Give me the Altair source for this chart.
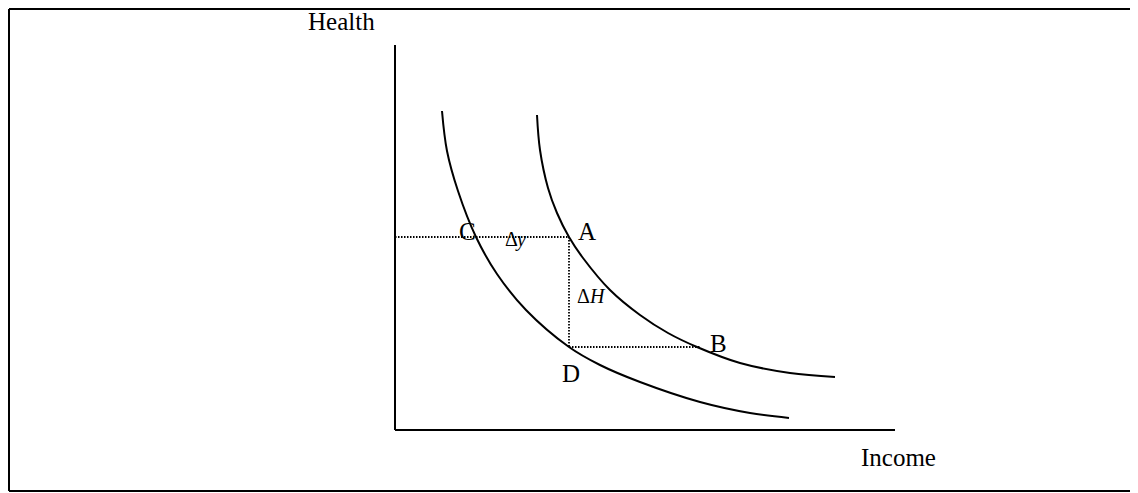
import altair as alt
import pandas as pd

# Inner curve (through C and D): income, health
curve1_income = [47, 52, 63, 81, 102, 131, 174, 205, 245, 305, 355, 394]
curve1_health = [319, 279, 239, 193, 156, 120, 83, 65, 48, 28, 17, 12]

# Outer curve (through A and B)
curve2_income = [142, 145, 153, 162, 174, 188, 215, 245, 273, 302, 345, 395, 440]
curve2_health = [315, 280, 242, 217, 193, 172, 140, 115, 97, 83, 67, 57, 53]

# Dotted guide segments: x, y, x2, y2
guide_x1 = [0, 174, 174]
guide_y1 = [193, 193, 83]
guide_x2 = [174, 174, 305]
guide_y2 = [193, 83, 83]

# Axis lines
axis_x1 = [0, 0]
axis_y1 = [0, 0]
axis_x2 = [0, 500]
axis_y2 = [385, 0]

# Frame lines (left, top, bottom)
frame_x1 = [-386, -386, -386]
frame_y1 = [-61, 421, -61]
frame_x2 = [-386, 735, 735]
frame_y2 = [421, 421, -61]

# Labels
big_text = ["Health", "Income", "C", "A", "D", "B"]
big_x = [-87, 466, 64, 183, 167, 315]
big_y = [400, -36, 190, 190, 48, 78]

delta_text = ["Δ", "Δ"]
delta_x = [110, 182]
delta_y = [184, 127]

ital_text = ["y", "H"]
ital_x = [122, 195]
ital_y = [184, 127]

X_DOMAIN = [-387, 735]
Y_DOMAIN = [-63, 422]

xs = alt.Scale(domain=X_DOMAIN, nice=False, zero=False)
ys = alt.Scale(domain=Y_DOMAIN, nice=False, zero=False)

curves = pd.DataFrame({
    "curve": ["inner"] * len(curve1_income) + ["outer"] * len(curve2_income),
    "income": curve1_income + curve2_income,
    "health": curve1_health + curve2_health,
    "order": list(range(len(curve1_income))) + list(range(len(curve2_income))),
})

guides = pd.DataFrame({"x": guide_x1, "y": guide_y1, "x2": guide_x2, "y2": guide_y2})
axes = pd.DataFrame({"x": axis_x1, "y": axis_y1, "x2": axis_x2, "y2": axis_y2})
frame = pd.DataFrame({"x": frame_x1, "y": frame_y1, "x2": frame_x2, "y2": frame_y2})
big = pd.DataFrame({"t": big_text, "x": big_x, "y": big_y})
delta = pd.DataFrame({"t": delta_text, "x": delta_x, "y": delta_y})
ital = pd.DataFrame({"t": ital_text, "x": ital_x, "y": ital_y})

FONT = "Liberation Serif"

curve_layer = alt.Chart(curves).mark_line(
    color="black", strokeWidth=2, interpolate="catmull-rom"
).encode(
    x=alt.X("income:Q", scale=xs, axis=None),
    y=alt.Y("health:Q", scale=ys, axis=None),
    detail="curve:N",
    order="order:Q",
)

guide_layer = alt.Chart(guides).mark_rule(
    color="black", strokeWidth=1.8, strokeDash=[1.5, 1.5]
).encode(
    x=alt.X("x:Q", scale=xs, axis=None),
    y=alt.Y("y:Q", scale=ys, axis=None),
    x2="x2:Q",
    y2="y2:Q",
)

axis_layer = alt.Chart(axes).mark_rule(color="black", strokeWidth=2).encode(
    x=alt.X("x:Q", scale=xs, axis=None),
    y=alt.Y("y:Q", scale=ys, axis=None),
    x2="x2:Q",
    y2="y2:Q",
)

frame_layer = alt.Chart(frame).mark_rule(color="black", strokeWidth=2).encode(
    x=alt.X("x:Q", scale=xs, axis=None),
    y=alt.Y("y:Q", scale=ys, axis=None),
    x2="x2:Q",
    y2="y2:Q",
)

big_layer = alt.Chart(big).mark_text(
    font=FONT, fontSize=25, align="left", baseline="alphabetic", color="black"
).encode(
    x=alt.X("x:Q", scale=xs, axis=None),
    y=alt.Y("y:Q", scale=ys, axis=None),
    text="t:N",
)

delta_layer = alt.Chart(delta).mark_text(
    font=FONT, fontSize=20, align="left", baseline="alphabetic", color="black"
).encode(
    x=alt.X("x:Q", scale=xs, axis=None),
    y=alt.Y("y:Q", scale=ys, axis=None),
    text="t:N",
)

ital_layer = alt.Chart(ital).mark_text(
    font=FONT, fontSize=20, fontStyle="italic", align="left",
    baseline="alphabetic", color="black"
).encode(
    x=alt.X("x:Q", scale=xs, axis=None),
    y=alt.Y("y:Q", scale=ys, axis=None),
    text="t:N",
)

chart = alt.layer(
    frame_layer, axis_layer, guide_layer, curve_layer,
    big_layer, delta_layer, ital_layer
).properties(
    width=1122,
    height=485,
    padding=0,
    autosize=alt.AutoSizeParams(type="none"),
    background="white",
).configure_view(
    stroke=None
)

chart.save("out.html", embed_options={"renderer": "svg", "actions": False})
